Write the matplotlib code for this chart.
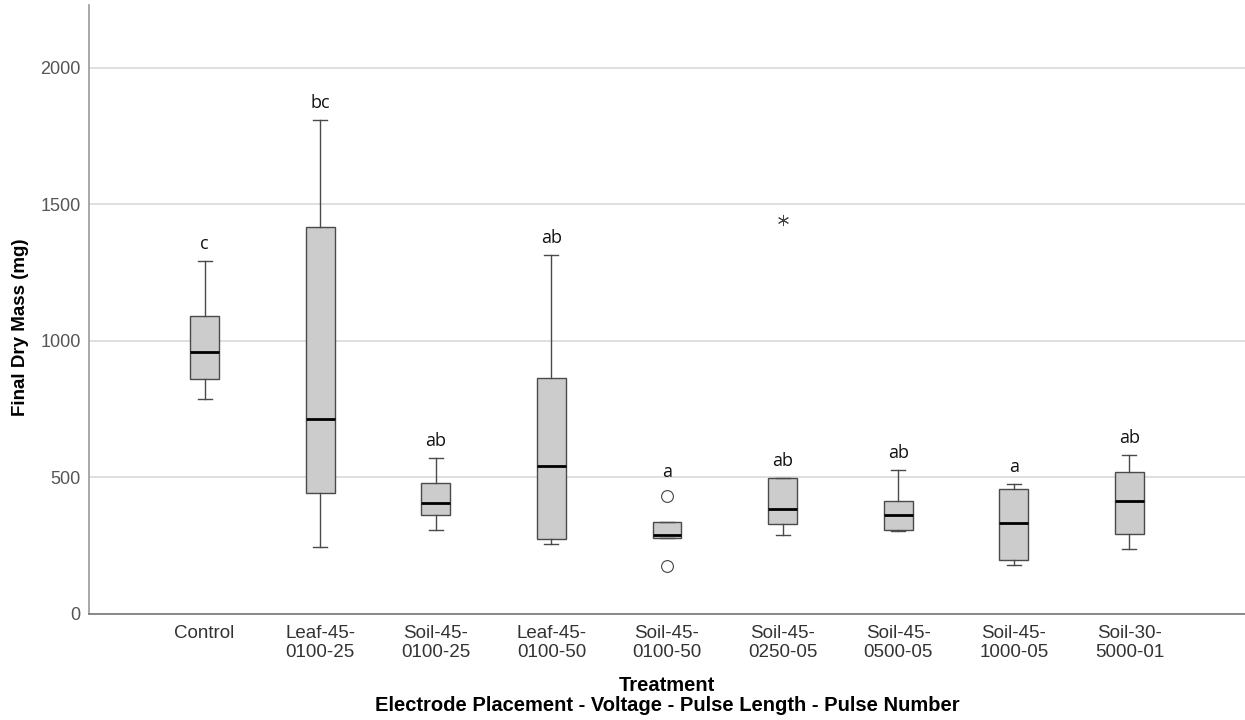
import matplotlib
matplotlib.use("Agg")
import matplotlib.pyplot as plt

treatments = [
    "Control", "Leaf-45-\n0100-25", "Soil-45-\n0100-25", "Leaf-45-\n0100-50",
    "Soil-45-\n0100-50", "Soil-45-\n0250-05", "Soil-45-\n0500-05",
    "Soil-45-\n1000-05", "Soil-30-\n5000-01",
]
whisk_lo = [788, 244, 309, 258, 277, 288, 304, 181, 239]
q1 = [860, 444, 364, 275, 277, 329, 308, 197, 293]
medians = [960, 714, 407, 542, 288, 386, 361, 333, 413]
q3 = [1092, 1418, 481, 864, 337, 497, 414, 457, 519]
whisk_hi = [1293, 1810, 573, 1316, 337, 497, 527, 475, 584]
outliers = [[], [], [], [], [433, 177], [], [], [], []]
extremes = [[], [], [], [], [], [1441], [], [], []]
letters = ["c", "bc", "ab", "ab", "a", "ab", "ab", "a", "ab"]

GRID = "#d9d9d9"
BOX_FACE = "#cccccc"
EDGE = "#4a4a4a"

fig = plt.figure(figsize=(12.45, 7.2), dpi=100)
ax = fig.add_axes([89 / 1245, 1 - 614 / 720, 1 - 89 / 1245, (614 - 5) / 720])

stats = []
for i in range(len(treatments)):
    stats.append({
        "whislo": whisk_lo[i], "q1": q1[i], "med": medians[i],
        "q3": q3[i], "whishi": whisk_hi[i], "fliers": outliers[i],
    })

positions = list(range(1, len(treatments) + 1))
ax.bxp(
    stats, positions=positions, widths=0.25, capwidths=0.12,
    patch_artist=True, showfliers=True,
    boxprops=dict(facecolor=BOX_FACE, edgecolor=EDGE, linewidth=1.0),
    medianprops=dict(color="black", linewidth=2.0),
    whiskerprops=dict(color=EDGE, linewidth=1.0),
    capprops=dict(color=EDGE, linewidth=1.0),
    flierprops=dict(marker="o", markersize=8.5, markerfacecolor="white",
                    markeredgecolor="#444444", markeredgewidth=0.8),
    zorder=3,
)

for pos, ext in zip(positions, extremes):
    if ext:
        ax.plot([pos] * len(ext), ext, linestyle="none", marker=(6, 2, 0),
                markersize=8, color="#444444", markeredgewidth=0.7, zorder=4)

# significance letters above each box
for pos, lab, hi, fl in zip(positions, letters, whisk_hi, outliers):
    top = max([hi] + fl)
    extra = 5 if fl and max(fl) > hi else 0
    ax.annotate(lab, xy=(pos, top), xytext=(0, 8.5 + extra),
                textcoords="offset points", ha="center", va="baseline",
                fontsize=13, family="Open Sans", color="#111111")

ax.set_xlim(0, 10)
ax.set_ylim(0, 2230)
ax.set_yticks([0, 500, 1000, 1500, 2000])
ax.set_xticks(positions)
ax.set_xticklabels(treatments, fontsize=13.5, color="#333333",
                   family="Liberation Sans", linespacing=1.15)
ax.tick_params(axis="y", labelsize=13, labelcolor="#555555", length=0, pad=6)
ax.tick_params(axis="x", length=0, pad=8)
for t in ax.get_yticklabels():
    t.set_family("Liberation Sans")

ax.grid(axis="y", color=GRID, linewidth=1.2, zorder=0)
ax.set_axisbelow(True)

for s in ["top", "right"]:
    ax.spines[s].set_visible(False)
ax.spines["left"].set_color("#999999")
ax.spines["bottom"].set_color("#777777")
ax.spines["left"].set_linewidth(1.2)
ax.spines["bottom"].set_linewidth(1.2)

ax.set_ylabel("Final Dry Mass (mg)", fontsize=13.5, fontweight="bold",
              family="Liberation Sans")
ax.yaxis.set_label_coords(-0.052, 0.471)
ax.set_xlabel("Treatment\nElectrode Placement - Voltage - Pulse Length - Pulse Number",
              fontsize=14.5, fontweight="bold", family="Liberation Sans",
              labelpad=11, linespacing=1.05)

fig.savefig("out.png", dpi=100)
